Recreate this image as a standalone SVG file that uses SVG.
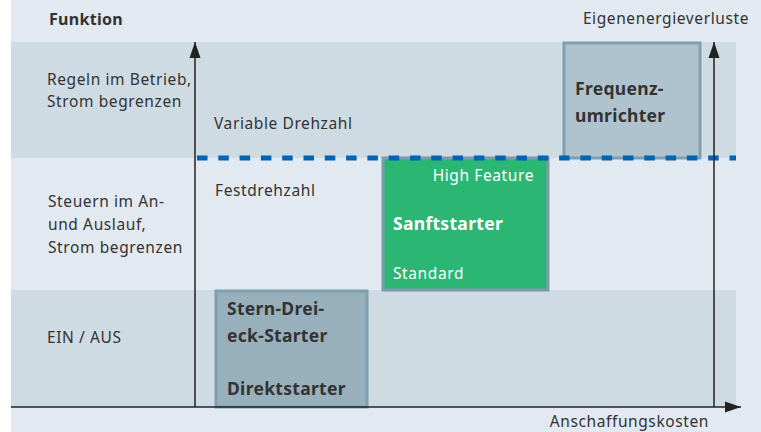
<svg xmlns="http://www.w3.org/2000/svg" width="761" height="432" viewBox="0 0 761 432">
  <defs>
    <marker id="arrow" viewBox="0 0 16 12" refX="16" refY="6" markerWidth="16" markerHeight="12" markerUnits="userSpaceOnUse" orient="auto">
      <path d="M0,0.5 L16,6 L0,11.5 Z" fill="#222"/>
    </marker>
    <style>
      text { font-family: "Noto Sans", "Open Sans", sans-serif; fill: #333; font-size: 15.5px; letter-spacing: 0.6px; }
      .bold { font-weight: bold; font-size: 17.5px; letter-spacing: 0.3px; }
      .white { fill: #ffffff; }
      .axis { stroke: #222; stroke-width: 1.5; fill: none; }
    </style>
  </defs>

  <!-- background and function bands -->
  <rect x="0" y="0" width="761" height="432" fill="#ffffff"/>
  <rect x="11" y="0" width="750" height="432" fill="#e2e9f0"/>
  <rect x="11" y="42" width="725" height="116" fill="#cfdbe3"/>
  <rect x="11" y="290" width="725" height="117" fill="#cfdbe3"/>

  <!-- row and axis labels -->
  <text x="49" y="25" class="bold" style="font-size:16px">Funktion</text>
  <text x="749" y="24" text-anchor="end">Eigenenergieverluste</text>
  <text x="47" y="85">Regeln im Betrieb,</text>
  <text x="47" y="107">Strom begrenzen</text>
  <text x="214" y="129">Variable Drehzahl</text>
  <text x="215" y="196">Festdrehzahl</text>
  <text x="48" y="207">Steuern im An-</text>
  <text x="48" y="230">und Auslauf,</text>
  <text x="48" y="253">Strom begrenzen</text>
  <text x="47" y="343">EIN / AUS</text>
  <text x="709" y="427" text-anchor="end">Anschaffungskosten</text>

  <!-- nodes -->
  <g id="frequenzumrichter">
    <rect x="564" y="43" width="136" height="115" fill="#afc3ce" stroke="#7f9fb0" stroke-width="3"/>
    <text x="575" y="95" class="bold">Frequenz-</text>
    <text x="575" y="122" class="bold">umrichter</text>
  </g>
  <g id="sanftstarter">
    <rect x="383" y="158" width="165" height="132" fill="#2bb673" stroke="#7b9bac" stroke-width="3"/>
    <text x="534" y="181" class="white" text-anchor="end">High Feature</text>
    <text x="393" y="230" class="bold white">Sanftstarter</text>
    <text x="393" y="279" class="white">Standard</text>
  </g>
  <g id="stern-dreieck">
    <rect x="216" y="291" width="151" height="116" fill="#98afbc" stroke="#7f9fb0" stroke-width="3"/>
    <text x="227" y="315" class="bold">Stern-Drei-</text>
    <text x="227" y="342" class="bold">eck-Starter</text>
    <text x="227" y="395" class="bold">Direktstarter</text>
  </g>

  <!-- connectors: axes and boundary line -->
  <g id="connectors">
    <line x1="197" y1="158" x2="736" y2="158" stroke="#0063b4" stroke-width="5" stroke-dasharray="10.5 10.8"/>
    <line class="axis" x1="195" y1="407" x2="195" y2="42" marker-end="url(#arrow)"/>
    <line class="axis" x1="714" y1="407" x2="714" y2="42" marker-end="url(#arrow)"/>
    <line class="axis" x1="11" y1="407" x2="741" y2="407" marker-end="url(#arrow)"/>
  </g>
</svg>
